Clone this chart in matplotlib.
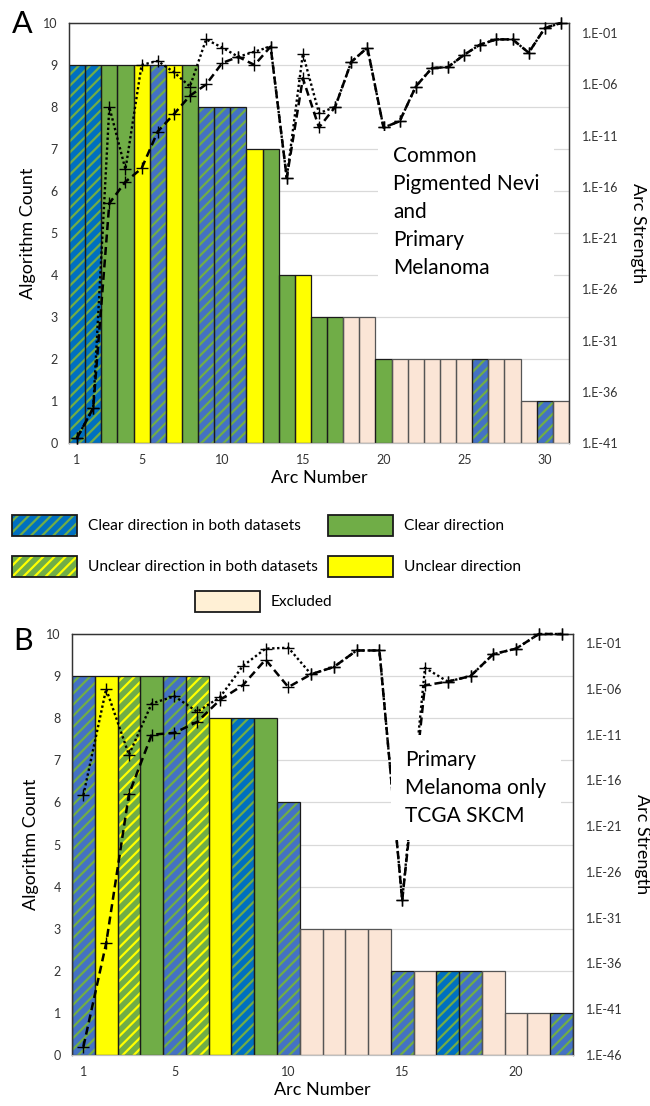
import numpy as np
import matplotlib
matplotlib.use('Agg')
import matplotlib.pyplot as plt
from matplotlib.patches import Rectangle
from matplotlib.ticker import FixedLocator, FuncFormatter

plt.rcParams['font.family'] = ['Lato', 'DejaVu Sans']
plt.rcParams['hatch.linewidth'] = 1.6

# category codes: CB / CB2 clear in both (two blue shades), UB unclear in both,
# C clear, U unclear, X excluded
a_counts = [9, 9, 9, 9, 9, 9, 9, 9, 8, 8, 8, 7, 7, 4, 4, 3, 3, 3, 3, 2,
            2, 2, 2, 2, 2, 2, 2, 2, 1, 1, 1]
a_cats = ['CB2', 'CB2', 'C', 'C', 'U', 'CB', 'U', 'C', 'CB', 'CB', 'CB', 'U', 'C',
          'C', 'U', 'C', 'C', 'X', 'X', 'C', 'X', 'X', 'X', 'X', 'X', 'CB', 'X',
          'X', 'X', 'CB', 'X']
# arc strength, log10 exponents
a_dot = [-40.5, -37.6, -8.2, -14.3, -4.1, -3.7, -4.8, -6.2, -1.6, -2.4, -3.3,
         -2.8, -2.3, -15.1, -3.0, -8.8, -8.2, -3.8, -2.4, -10.2, -9.6, -6.2,
         -4.4, -4.3, -3.1, -2.1, -1.6, -1.6, -2.9, -0.5, 0.0]
a_dash = [-40.5, -37.6, -17.6, -15.5, -14.2, -10.6, -8.9, -7.1, -6.0, -3.9, -3.3,
          -4.1, -2.3, -15.1, -5.4, -10.2, -8.2, -3.8, -2.4, -10.2, -9.6, -6.2,
          -4.4, -4.3, -3.1, -2.1, -1.6, -1.6, -2.9, -0.5, 0.0]

b_counts = [9, 9, 9, 9, 9, 9, 8, 8, 8, 6, 3, 3, 3, 3, 2, 2, 2, 2, 2, 1, 1, 1]
b_cats = ['CB', 'U', 'UB', 'C', 'CB', 'UB', 'U', 'CB2', 'C', 'CB', 'X', 'X', 'X',
          'X', 'CB', 'X', 'CB2', 'CB', 'X', 'X', 'X', 'CB']
b_dot = [-17.6, -6.0, -13.2, -7.6, -6.8, -8.5, -6.9, -3.5, -1.6, -1.5, -4.4,
         -3.6, -1.8, -1.8, -29.1, -3.7, -5.2, -4.6, -2.2, -1.6, 0.0, 0.0]
b_dash = [-45.1, -33.8, -17.5, -11.0, -10.8, -9.6, -7.2, -5.6, -2.8, -5.8, -4.4,
          -3.6, -1.8, -1.8, -29.1, -5.6, -5.2, -4.6, -2.2, -1.6, 0.0, 0.0]

styles = {
    'CB': ('#4472C4', '#70AD47', '///'),
    'CB2': ('#0070C0', '#70AD47', '///'),
    'UB': ('#70AD47', '#FFFF00', '///'),
    'C': ('#70AD47', None, None),
    'U': ('#FFFF00', None, None),
    'X': ('#FBE5D6', None, None),
}

legend_items = [('CB2', 'Clear direction in both datasets', 12, 515),
                ('C', 'Clear direction', 328, 515),
                ('UB', 'Unclear direction in both datasets', 12, 556),
                ('U', 'Unclear direction', 328, 556),
                ('X', 'Excluded', 195, 591)]

fig = plt.figure(figsize=(6.5, 11.06), dpi=100)


def panel(rect, counts, cats, dot, dash, lo, note, note_xy):
    ax = fig.add_axes(rect)
    x = np.arange(1, len(counts) + 1)
    for xi, c, cat in zip(x, counts, cats):
        face, hcol, hatch = styles[cat]
        ax.bar(xi, c, width=1.0, color=face, edgecolor=hcol or face,
               hatch=hatch, linewidth=0, zorder=2)
        ax.bar(xi, c, width=1.0, fill=False, linewidth=0.9, zorder=3,
               edgecolor='#555555' if cat == 'X' else '#1a1a1a')
    ax.set_xlim(0.5, len(counts) + 0.5)
    ax.set_ylim(0, 10)
    ax.set_yticks(range(11))
    ticks = [1] + list(range(5, len(counts) + 1, 5))
    ax.set_xticks(ticks)
    ax.yaxis.grid(True, color='#D9D9D9', lw=0.9)
    ax.set_axisbelow(True)
    ax.tick_params(length=0, labelsize=9, colors='#333333')
    ax.tick_params(axis='y', pad=8)
    ax.tick_params(axis='x', pad=8)
    ax.set_ylabel('Algorithm Count', fontsize=13, labelpad=5)
    ax.set_xlabel('Arc Number', fontsize=13, labelpad=3)

    ax2 = ax.twinx()
    ax2.set_yscale('log')
    ax2.set_ylim(10.0 ** lo, 1.0)
    ax2.plot(x, 10.0 ** np.array(dot), ls=(0, (1, 1.1)), lw=1.7, color='black',
             marker='+', ms=8, mew=1, clip_on=False, zorder=4)
    ax2.plot(x, 10.0 ** np.array(dash), ls=(0, (3.2, 1.8)), lw=1.8, color='black',
             marker='+', ms=8, mew=1, clip_on=False, zorder=4)
    exps = list(range(lo, 0, 5))
    ax2.yaxis.set_major_locator(FixedLocator([10.0 ** e for e in exps]))
    ax2.yaxis.set_minor_locator(FixedLocator([]))
    ax2.yaxis.set_major_formatter(FuncFormatter(
        lambda v, p: '1.E-%02d' % round(-np.log10(v))))
    ax2.tick_params(length=0, labelsize=9, colors='#333333', pad=9)
    ax2.set_ylabel('Arc Strength', fontsize=13, rotation=270, labelpad=20)
    for a in (ax, ax2):
        for s in ('top', 'right', 'left'):
            a.spines[s].set_color('#333333')
            a.spines[s].set_linewidth(0.9)
        a.spines['bottom'].set_color('#BFBFBF')
    ax2.text(note_xy[0], note_xy[1], note, transform=ax2.transAxes, fontsize=15,
             va='top', ha='left', linespacing=1.5, zorder=10,
             bbox=dict(boxstyle='square,pad=0.7', fc='white', ec='none'))
    return ax


panel([69 / 650, 1 - 443 / 1106, 500 / 650, 420 / 1106], a_counts, a_cats,
      a_dot, a_dash, -41, 'Common\nPigmented Nevi\nand\nPrimary\nMelanoma',
      (0.648, 0.707))
panel([72 / 650, 1 - 1055 / 1106, 501 / 650, 421 / 1106], b_counts, b_cats,
      b_dot, b_dash, -46, 'Primary\nMelanoma only\nTCGA SKCM', (0.665, 0.725))

# legend and panel letters in pixel space
lax = fig.add_axes([0, 0, 1, 1], zorder=-1)
lax.set_xlim(0, 650)
lax.set_ylim(1106, 0)
lax.axis('off')
for cat, text, lx, ly in legend_items:
    face, hcol, hatch = styles[cat]
    if cat == 'X':
        face = '#FFF0D5'
    lax.add_patch(Rectangle((lx, ly), 65, 21, facecolor=face,
                            edgecolor=hcol or face, hatch=hatch, lw=0))
    lax.add_patch(Rectangle((lx, ly), 65, 21, fill=False, edgecolor='#1a1a1a',
                            lw=1.3))
    lax.text(lx + 76, ly + 11, text, fontsize=11.2, va='center', ha='left')
lax.text(12, 33, 'A', fontsize=22, va='baseline')
lax.text(13, 650, 'B', fontsize=22, va='baseline')

fig.savefig('out.png', dpi=100)
